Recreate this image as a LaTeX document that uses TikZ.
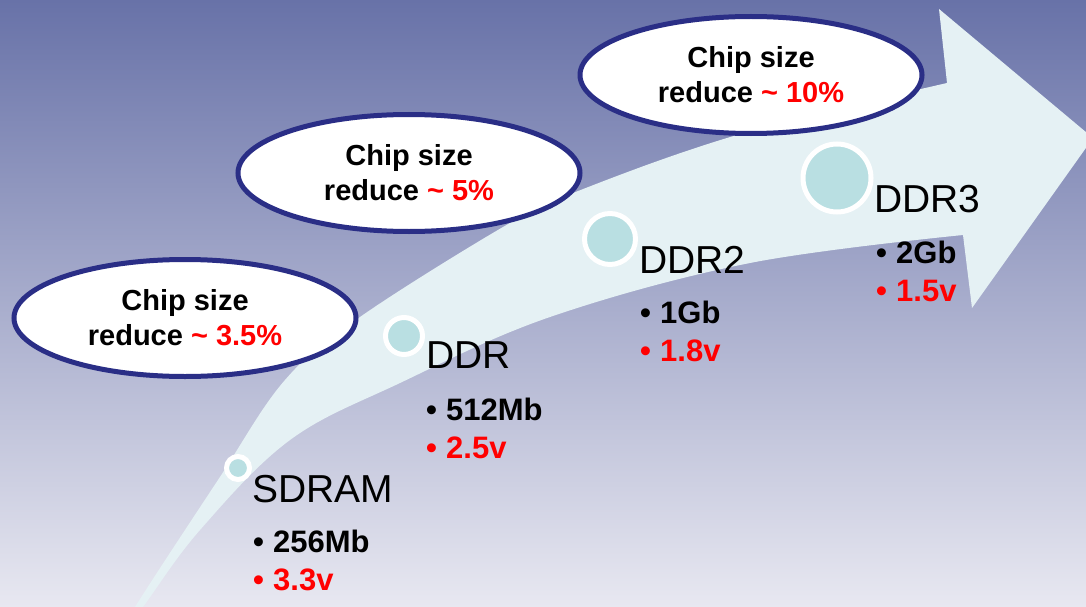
\documentclass[tikz,border=0pt]{standalone}
\usepackage{fontspec}
\setmainfont{Liberation Sans}
\usepackage{tikz}
\usetikzlibrary{positioning,shapes.geometric}
\definecolor{bgtop}{RGB}{104,114,168}
\definecolor{bgbottom}{RGB}{232,232,241}
\definecolor{arrowfill}{RGB}{229,241,244}
\definecolor{dotfill}{RGB}{185,223,226}
\definecolor{ovalline}{RGB}{42,46,134}
\definecolor{hotred}{RGB}{255,0,0}
\tikzset{
  figoval/.style={ellipse, draw=ovalline, line width=5pt, fill=white,
    minimum width=342pt, minimum height=117pt, align=center,
    font=\fontsize{29}{35}\selectfont\bfseries},
  figdot/.style={circle, draw=white, line width=5pt, fill=dotfill, inner sep=0pt},
  figtitle/.style={anchor=base west, inner sep=0pt, font=\fontsize{39}{47}\selectfont},
  figitem/.style={anchor=base west, inner sep=0pt, font=\fontsize{31}{37}\selectfont\bfseries},
}
\newcommand{\itembul}[1]{\makebox[20pt][l]{\textbullet}#1}

\begin{document}
\begin{tikzpicture}[x=1pt, y=-1pt]
  % background and bounding box
  \useasboundingbox (0,0) rectangle (1086,607);
  \clip (0,0) rectangle (1086,607);
  \shade[top color=bgtop, bottom color=bgbottom] (0,0) rectangle (1086,607);

  % big curved arrow
  \fill[arrowfill] plot[smooth, tension=0.6] coordinates {(118,640) (135,607) (218,480) (285,380) (360,317) (503,227) (573,193) (737,135) (947,83)}
    -- (939,9) -- (1093,138) -- (972,308) -- (963,235)
    -- plot[smooth, tension=0.6] coordinates {(963,235) (750,263) (550,317) (400,383) (290,440) (200,530) (143,607) (118,640)} -- cycle;

  % generation dots
  \node[figdot, minimum size=23pt] (sdramdot) at (238,468) {};
  \node[figdot, minimum size=37pt] (ddrdot) at (404,336) {};
  \node[figdot, minimum size=51pt] (ddrtwodot) at (610,239) {};
  \node[figdot, minimum size=68pt] (ddrthreedot) at (837,178) {};

  % generation labels
  \node[figtitle] (sdram) at (252,502) {SDRAM};
  \node[figitem] (sdramsize) at (253,552) {\itembul{256Mb}};
  \node[figitem, text=hotred] (sdramvolt) at (253,590) {\itembul{3.3v}};

  \node[figtitle] (ddr) at (426,368) {DDR};
  \node[figitem] (ddrsize) at (426,420) {\itembul{512Mb}};
  \node[figitem, text=hotred] (ddrvolt) at (426,458) {\itembul{2.5v}};

  \node[figtitle] (ddrtwo) at (639,273) {DDR2};
  \node[figitem] (ddrtwosize) at (640,323) {\itembul{1Gb}};
  \node[figitem, text=hotred] (ddrtwovolt) at (640,361) {\itembul{1.8v}};

  \node[figtitle] (ddrthree) at (874,212) {DDR3};
  \node[figitem] (ddrthreesize) at (876,263) {\itembul{2Gb}};
  \node[figitem, text=hotred] (ddrthreevolt) at (876,301) {\itembul{1.5v}};

  % chip size bubbles
  \node[figoval] (shrinkone) at (185,318) {Chip size\\reduce {\color{hotred}\textasciitilde{} 3.5\%}};
  \node[figoval] (shrinktwo) at (409,173) {Chip size\\reduce {\color{hotred}\textasciitilde{} 5\%}};
  \node[figoval] (shrinkthree) at (751,75) {Chip size\\reduce {\color{hotred}\textasciitilde{} 10\%}};
\end{tikzpicture}
\end{document}
